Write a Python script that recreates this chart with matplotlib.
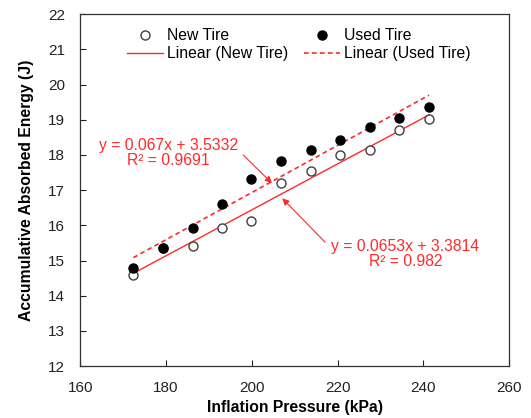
import numpy as np
import matplotlib
matplotlib.use("Agg")
import matplotlib.pyplot as plt

plt.rcParams['font.family'] = ['Liberation Sans', 'DejaVu Sans']

# SECTION - data
pressure = [172.4, 179.3, 186.2, 193.1, 199.9, 206.8, 213.7, 220.6, 227.5, 234.4, 241.3]
new_tire = [14.58, 15.35, 15.42, 15.93, 16.13, 17.21, 17.55, 18.01, 18.14, 18.72, 19.02]
used_tire = [14.80, 15.37, 15.92, 16.62, 17.33, 17.83, 18.14, 18.42, 18.79, 19.04, 19.37]

# trendline coefficients as printed on the chart
new_fit = (0.0653, 3.3814, 0.982)
used_fit = (0.067, 3.5332, 0.9691)

red = '#ff2a2a'
fs = 11.3

fig = plt.figure(figsize=(5.31, 4.18), dpi=100)
ax = fig.add_axes([0.151, 0.124, 0.808, 0.842])

x = np.array(pressure)
ax.plot(x, new_fit[0] * x + new_fit[1], '-', color=red, lw=1.0, label='Linear (New Tire)')
ax.plot(x, used_fit[0] * x + used_fit[1], '--', color=red, lw=1.2, dashes=(2.8, 2.0), label='Linear (Used Tire)')
ax.plot(pressure, new_tire, 'o', mfc='white', mec='#404040', mew=1.0, ms=6.5, label='New Tire')
ax.plot(pressure, used_tire, 'o', mfc='black', mec='black', ms=6.5, label='Used Tire')

# legend filled column by column: New, Linear New | Used, Linear Used
h, l = ax.get_legend_handles_labels()
order = [2, 0, 3, 1]
ax.legend([h[i] for i in order], [l[i] for i in order], ncol=2, frameon=False,
          loc='upper center', bbox_to_anchor=(0.51, 1.0), fontsize=fs,
          handlelength=2.3, handletextpad=0.25, columnspacing=1.0, labelspacing=0.2)

# SECTION - annotations
ax.text(180.5, 18.07, f'y = {used_fit[0]}x + {used_fit[1]}\nR² = {used_fit[2]}',
        ha='center', va='center', color=red, fontsize=fs, linespacing=1.0)
ax.annotate('', xy=(204.7, 17.2), xytext=(198.0, 18.0),
            arrowprops=dict(arrowstyle='-|>', color=red, lw=0.8, shrinkA=0, shrinkB=0, mutation_scale=10))
ax.text(235.8, 15.18, f'y = {new_fit[0]}x + {new_fit[1]}\nR² = {new_fit[2]}',
        ha='center', va='center', color=red, fontsize=fs, linespacing=1.0)
ax.annotate('', xy=(207.1, 16.77), xytext=(217.1, 15.52),
            arrowprops=dict(arrowstyle='-|>', color=red, lw=0.8, shrinkA=0, shrinkB=0, mutation_scale=10))

ax.set_xlim(160, 260)
ax.set_ylim(12, 22)
ax.set_xticks(np.arange(160, 261, 20))
ax.set_yticks(np.arange(12, 23, 1))
ax.tick_params(direction='in', length=4, width=0.8, labelsize=11, colors='#222222')
ax.tick_params(axis='x', pad=11)
ax.tick_params(axis='y', pad=11)
for s in ax.spines.values():
    s.set_color('#333333')
    s.set_linewidth(0.9)
ax.set_xlabel('Inflation Pressure (kPa)', fontsize=fs, fontweight='bold', labelpad=3)
ax.set_ylabel('Accumulative Absorbed Energy (J)', fontsize=fs, fontweight='bold', labelpad=10)

fig.savefig('out.png', dpi=100)
